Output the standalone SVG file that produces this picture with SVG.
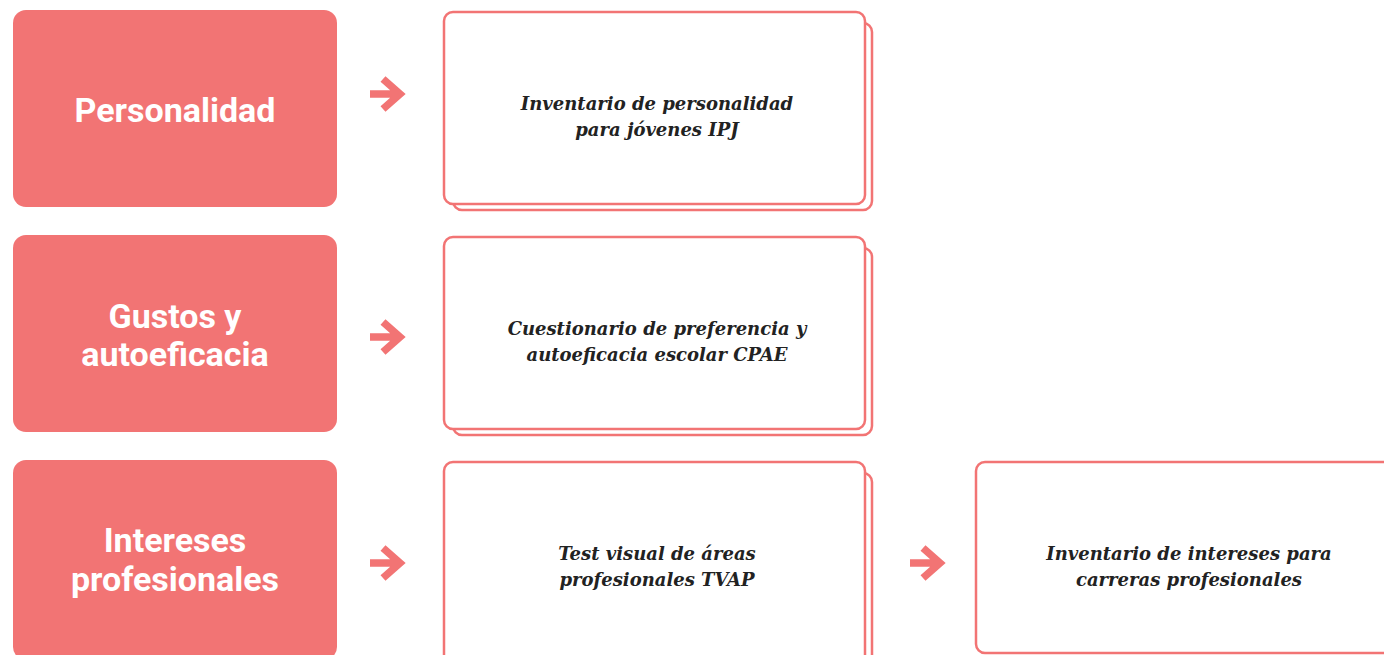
<svg xmlns="http://www.w3.org/2000/svg" width="1384" height="655" viewBox="0 0 1384 655">
<style>
.cat{fill:#F27474}
.ct{font-family:Roboto,"Liberation Sans",sans-serif;font-weight:bold;font-size:34px;fill:#fff;text-anchor:middle}
.box{fill:#fff;stroke:#F27474;stroke-width:2.5}
.bt{font-family:"DejaVu Serif","Liberation Serif",serif;font-weight:bold;font-style:italic;font-size:18px;fill:#222;text-anchor:middle}
.arr{fill:none;stroke:#F27474;stroke-width:7.5}
</style>
<rect width="1384" height="655" fill="#fff"/>
<g id="cat1"><rect class="cat" x="13" y="10" width="324" height="197" rx="13"/><text class="ct" x="175" y="122">Personalidad</text></g>
<g id="cat2"><rect class="cat" x="13" y="235" width="324" height="197" rx="13"/><text class="ct" x="175" y="328">Gustos y</text><text class="ct" x="175" y="366">autoeficacia</text></g>
<g id="cat3"><rect class="cat" x="13" y="460" width="324" height="200" rx="13"/><text class="ct" x="175" y="552">Intereses</text><text class="ct" x="175" y="591">profesionales</text></g>
<g id="ipj"><rect class="box" x="453" y="23" width="419" height="187" rx="9"/><rect class="box" x="444" y="12" width="421" height="192" rx="9"/><text class="bt" x="657" y="110">Inventario de personalidad</text><text class="bt" x="657" y="136">para jóvenes IPJ</text></g>
<g id="cpae"><rect class="box" x="453" y="248" width="419" height="187" rx="9"/><rect class="box" x="444" y="237" width="421" height="192" rx="9"/><text class="bt" x="657" y="335">Cuestionario de preferencia y</text><text class="bt" x="657" y="361">autoeficacia escolar CPAE</text></g>
<g id="tvap"><rect class="box" x="453" y="473" width="419" height="200" rx="9"/><rect class="box" x="444" y="462" width="421" height="210" rx="9"/><text class="bt" x="657" y="560">Test visual de áreas</text><text class="bt" x="657" y="586">profesionales TVAP</text></g>
<g id="iicp"><rect class="box" x="976" y="462" width="430" height="191" rx="9"/><text class="bt" x="1189" y="560">Inventario de intereses para</text><text class="bt" x="1189" y="586">carreras profesionales</text></g>
<g id="connectors">
<path class="arr" d="M370 94H401M383 79L400 94L383 109"/>
<path class="arr" d="M370 337H401M383 322L400 337L383 352"/>
<path class="arr" d="M370 563H401M383 548L400 563L383 578"/>
<path class="arr" d="M910 563H941M923 548L940 563L923 578"/>
</g>
</svg>
